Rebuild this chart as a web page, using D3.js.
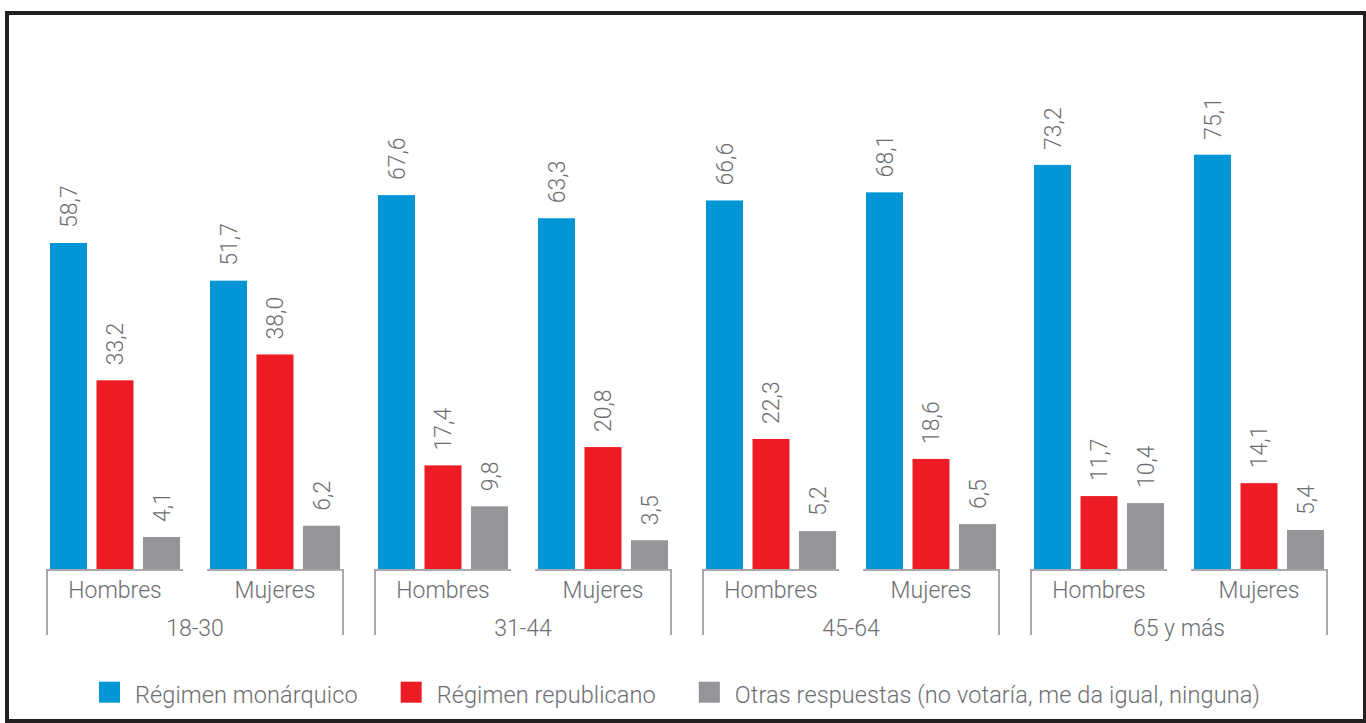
<!DOCTYPE html>
<html>
<head>
<meta charset="utf-8">
<script src="https://cdn.jsdelivr.net/npm/d3@7"></script>
<style>
  html, body { margin: 0; padding: 0; background: #fff; }
  svg { display: block; }
  text { font-family: Roboto, "Liberation Sans", sans-serif; font-weight: 300; fill: #6d6e71; }
</style>
</head>
<body>
<svg id="chart" width="1366" height="723"></svg>
<script>
// ---- data ----
const ageGroups = ["18-30", "31-44", "45-64", "65 y más"];
const sexes = ["Hombres", "Mujeres"];
const seriesNames = ["Régimen monárquico", "Régimen republicano", "Otras respuestas (no votaría, me da igual, ninguna)"];
const seriesColors = ["#0096d6", "#ed1c24", "#939598"];
// order: 18-30 H, 18-30 M, 31-44 H, 31-44 M, 45-64 H, 45-64 M, 65+ H, 65+ M
const monarquico = [58.7, 51.7, 67.6, 63.3, 66.6, 68.1, 73.2, 75.1];
const republicano = [33.2, 38.0, 17.4, 20.8, 22.3, 18.6, 11.7, 14.1];
const otras = [4.1, 6.2, 9.8, 3.5, 5.2, 6.5, 10.4, 5.4];
const seriesValues = [monarquico, republicano, otras];

const fmt = v => v.toFixed(1).replace(".", ",");

const svg = d3.select("#chart");

// frame
svg.append("rect")
  .attr("x", 7).attr("y", 13).attr("width", 1358).attr("height", 708)
  .attr("fill", "none").attr("stroke", "#231f20").attr("stroke-width", 4);

// scales
const xGroup = d3.scaleBand().domain(ageGroups).range([47, 1327]).paddingInner(0.0976).paddingOuter(0);
const xSex = d3.scaleBand().domain(sexes).range([0, xGroup.bandwidth()]).paddingInner(0.15).paddingOuter(0);
const xSeries = d3.scaleBand().domain(d3.range(seriesNames.length)).range([3, xSex.bandwidth() - 3]).paddingInner(0.204).paddingOuter(0);
const y = d3.scaleLinear().domain([-1.84, 80]).range([569, 128.3]);
const baseY = y(-1.84);
const axisY = 570;
const axisColor = "#a7a9ac";

const fs = 23;

ageGroups.forEach((g, gi) => {
  const gx = xGroup(g);
  const gEl = svg.append("g").attr("transform", `translate(${gx},0)`);
  // vertical bracket lines
  [0, xGroup.bandwidth()].forEach(vx => {
    gEl.append("line").attr("x1", vx).attr("x2", vx).attr("y1", axisY - 1).attr("y2", 635)
      .attr("stroke", axisColor).attr("stroke-width", 2);
  });
  gEl.append("text")
    .attr("x", xGroup.bandwidth() / 2).attr("y", 636)
    .attr("text-anchor", "middle").attr("font-size", fs)
    .text(g);

  sexes.forEach((s, si) => {
    const idx = gi * sexes.length + si;
    const sx = xSex(s);
    const sEl = gEl.append("g").attr("transform", `translate(${sx},0)`);
    // axis segment
    sEl.append("line").attr("x1", 0).attr("x2", xSex.bandwidth()).attr("y1", axisY).attr("y2", axisY)
      .attr("stroke", axisColor).attr("stroke-width", 2);
    sEl.append("text")
      .attr("x", xSex.bandwidth() / 2).attr("y", 598)
      .attr("text-anchor", "middle").attr("font-size", fs)
      .text(s);

    seriesValues.forEach((vals, k) => {
      const v = vals[idx];
      const bx = xSeries(k);
      const bw = xSeries.bandwidth();
      sEl.append("rect")
        .attr("x", bx).attr("width", bw)
        .attr("y", y(v)).attr("height", baseY - y(v))
        .attr("fill", seriesColors[k]);
      const cx = bx + bw / 2;
      const ty = y(v) - 15;
      sEl.append("text")
        .attr("transform", `translate(${cx},${ty}) rotate(-90)`)
        .attr("dy", "0.36em")
        .attr("text-anchor", "start").attr("font-size", fs)
        .text(fmt(v));
    });
  });
});

// legend
const legend = svg.append("g");
let lx = 99;
seriesNames.forEach((name, k) => {
  const item = legend.append("g").attr("transform", `translate(${lx},0)`);
  item.append("rect").attr("x", 0).attr("y", 681.7).attr("width", 21).attr("height", 21)
    .attr("fill", seriesColors[k]);
  const t = item.append("text").attr("x", 36).attr("y", 702.5)
    .attr("font-size", 23.5).attr("letter-spacing", 0.1).text(name);
  const w = t.node().getComputedTextLength();
  lx += 36 + w + 43;
});
</script>
</body>
</html>
